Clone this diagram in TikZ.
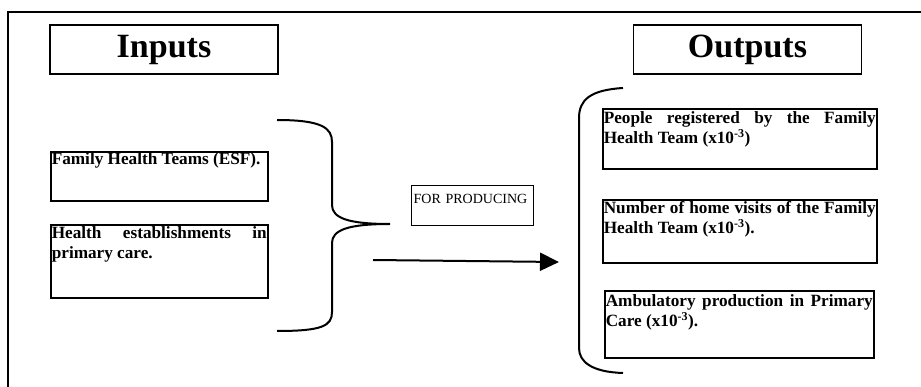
\documentclass[tikz,border=0pt]{standalone}
\usepackage{fontspec}
\setmainfont{Liberation Serif}
\usetikzlibrary{arrows.meta}
\hyphenpenalty=10000
\exhyphenpenalty=10000
\begin{document}
\begin{tikzpicture}
[x=1pt,y=-1pt,
 titulo/.style={draw,line width=1.6pt,minimum width=228pt,minimum height=49pt,inner sep=0pt,font=\fontsize{34}{40}\selectfont\bfseries},
 caixa/.style={draw,line width=1.6pt,anchor=north west,inner xsep=1pt,inner ysep=0pt,align=justify,font=\fontsize{17.2}{19.5}\selectfont\bfseries},
 prod/.style={draw,line width=1.4pt,anchor=north west,inner xsep=2pt,inner ysep=0pt,align=left,font=\fontsize{14}{16}\selectfont},
 chave/.style={line width=2pt},
 ar/.style={-{Triangle[length=19pt,width=18pt]},line width=2pt}]
\useasboundingbox (0,0) rectangle (921,387);
\clip (0,0) rectangle (921,387);
\draw [line width=2pt] (8,12) rectangle (940,400);

\node [titulo] at (164,49.5) (inputs) {Inputs};
\node [titulo] at (747.5,49.5) (outputs) {Outputs};

\node [caixa,text width=215pt,text height=13pt,text depth=36pt] at (50,151) (esf) {Family Health Teams (ESF).};
\node [caixa,text width=215pt,text height=14pt,text depth=59pt] at (50,224) (estab) {Health establishments in primary care.};

\node [prod,text width=118pt,text height=18pt,text depth=22pt] at (411,185) (produz) {FOR PRODUCING};

\node [caixa,text width=272pt,text height=15pt,text depth=45pt] at (602,108) (pessoas) {People registered by the Family\linebreak Health Team (x10\textsuperscript{-3})};
\node [caixa,text width=272pt,text height=14pt,text depth=49pt] at (602,199) (visitas) {Number of home visits of the Family Health Team (x10\textsuperscript{-3}).};
\node [caixa,text width=267pt,text height=16pt,text depth=51pt] at (604,290) (ambul) {Ambulatory production in Primary Care (x10\textsuperscript{-3}).};

% chaves
\draw [chave] (277,120) .. controls (322,120) and (332,128) .. (332,142) -- (332,205)
  .. controls (332,218) and (348,224) .. (390,224)
  .. controls (348,224) and (332,230) .. (332,243) -- (332,312)
  .. controls (332,326) and (322,331) .. (277,331);
\draw [chave] (623,88) .. controls (590,90) and (579,100) .. (579,118) -- (579,348)
  .. controls (579,362) and (592,372) .. (623,373);

\coordinate (ini) at (373,260);
\coordinate (fim) at (559,262);
\draw [ar] (ini) -- (fim);
\end{tikzpicture}
\end{document}
